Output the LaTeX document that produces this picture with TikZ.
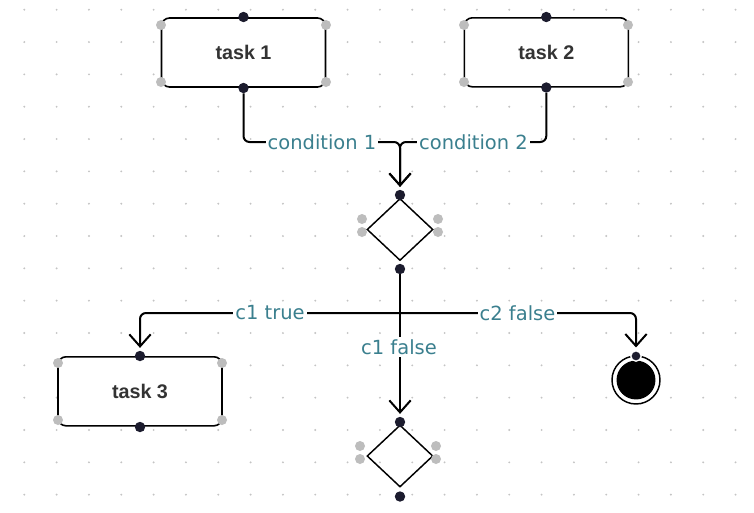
\documentclass[tikz,border=0pt]{standalone}
\usepackage{fontspec}
\setmainfont{DejaVu Sans}
\newfontfamily\taskfont{Liberation Sans}
\usetikzlibrary{arrows.meta, shapes.geometric}
\definecolor{lblteal}{HTML}{3A7F8E}
\definecolor{portdark}{HTML}{1C1C2E}
\definecolor{handlegray}{HTML}{BDBDBD}
\definecolor{taskgray}{HTML}{333333}
\definecolor{gridgray}{HTML}{C4C4C4}

\begin{document}
\begin{tikzpicture}[
  x=0.75pt, y=-0.75pt,
  task/.style={draw, fill=white, line width=1.2pt, rounded corners=6pt, minimum width=123pt, minimum height=51.75pt,
    font=\taskfont\bfseries\fontsize{14.8}{17}\selectfont, text=taskgray},
  cond/.style={diamond, draw, line width=1.1pt, minimum width=49.5pt, minimum height=46.5pt, inner sep=0pt},
  port/.style={circle, fill=portdark, inner sep=0pt, minimum size=7.8pt},
  handle/.style={circle, fill=handlegray, inner sep=0pt, minimum size=7.5pt},
  flow/.style={line width=1.5pt, rounded corners=4.5pt, -{Straight Barb[length=9pt, width=16pt]}, shorten >=2pt},
  lbl/.style={fill=white, text=lblteal, font=\fontsize{14.6}{17}\selectfont, inner sep=1.5pt}
]
\useasboundingbox[fill=white] (0,0) rectangle (754,512);
% dotted grid
\foreach \i in {0,...,22}
  \foreach \j in {0,...,15}
    \fill[gridgray] ({24.3+32.33*\i},{9.7+32.33*\j}) circle (0.8pt);

% nodes
\node[task] (t1) at (243.5,52.5) {task 1};
\node[task] (t2) at (546.3,52.3) {task 2};
\node[task] (t3) at (140,391.3) {task 3};
\node[cond] (d1) at (400,229.5) {};
\node[cond] (d2) at (400,456) {};
\node[circle, draw, line width=1.1pt, fill=white, minimum size=36pt, inner sep=0pt] (fin) at (636,380) {};
\node[circle, fill=black, minimum size=29.2pt, inner sep=0pt] (fincore) at (fin) {};

% ports
\node[port] (t1n) at (243.5,17) {};
\node[port] (t1s) at (243.5,88) {};
\node[port] (t2n) at (546.3,17) {};
\node[port] (t2s) at (546.3,87.5) {};
\node[port] (t3n) at (140,356) {};
\node[port] (t3s) at (140,427) {};
\node[port] (d1n) at (400,195) {};
\node[port] (d1s) at (400,269) {};
\node[port] (d2n) at (400,422) {};
\node[port] (d2s) at (400,496.5) {};
\node[port, draw=white, line width=1pt] (finn) at (636,356) {};

% handles
\foreach \x/\y in {161/25, 161/82, 326/25, 326/82,
                   464/25, 464/82, 628/25, 628/82,
                   58/363, 58/420, 222/363, 222/420,
                   362/219, 362/232, 438/219, 438/232,
                   360/446, 360/459, 436/446, 436/459}
  \node[handle] at (\x,\y) {};

% connectors
\coordinate (j1) at (400,142);
\coordinate (j2) at (400,313);
\draw[flow] (t1s) |- (j1) -- (d1n);
\draw[flow] (t2s) |- (j1) -- (d1n);
\draw[flow] (d1s) -- (d2n);
\draw[flow] (j2) -| (t3n);
\draw[flow] (j2) -| (finn);

% labels
\node[lbl] (lcond1) at (322,142) {condition 1};
\node[lbl] (lcond2) at (473.5,142) {condition 2};
\node[lbl] (lc1t) at (270,313) {c1 true};
\node[lbl] (lc2f) at (517.5,313) {c2 false};
\node[lbl] (lc1f) at (399,347) {c1 false};
\end{tikzpicture}
\end{document}
